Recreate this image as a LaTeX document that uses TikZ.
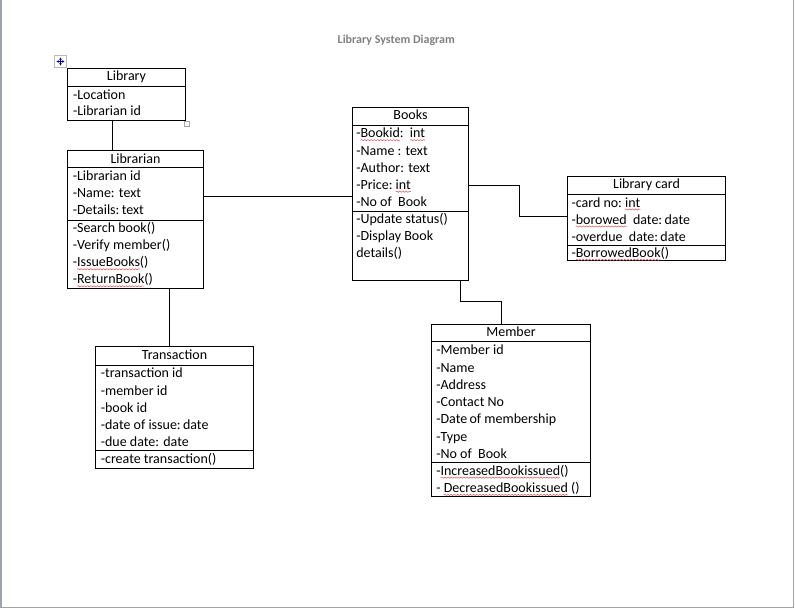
\documentclass[tikz,border=0pt]{standalone}
\usepackage{fontspec}
\setmainfont{Carlito}
\usetikzlibrary{fit,decorations.pathmorphing,arrows.meta}
\definecolor{frame}{HTML}{A0A4A8}
\definecolor{ttlgray}{HTML}{808080}
\definecolor{squigred}{HTML}{E04848}
\tikzset{
  classbox/.style={draw, line width=0.8pt, inner sep=0pt, outer sep=0pt},
  sepline/.style={line width=0.8pt},
  conn/.style={line width=0.8pt},
  txt/.style={anchor=base west, inner sep=0pt, outer sep=0pt, font=\fontsize{10.5}{12}\selectfont},
  ctitle/.style={anchor=base, inner sep=0pt, outer sep=0pt, font=\fontsize{10.5}{12}\selectfont},
  squig/.style={draw=squigred, line width=0.35pt, decorate,
     decoration={snake, amplitude=0.45pt, segment length=2.4pt}},
}
\newcommand\sqw[3]{%
  \node[txt] (#1) at (#2) {#3};
  \draw[squig] ([yshift=-1.7pt]#1.base west) -- ([yshift=-1.7pt]#1.base east);}
\begin{document}
\begin{tikzpicture}[x=0.75pt, y=-0.75pt]
\useasboundingbox (0,0) rectangle (795,609);
% page frame
\draw[frame, line width=1.3pt] (1,0) -- (1,607.5) -- (793.5,607.5) -- (793.5,0);

% title
\node[anchor=base, inner sep=0pt, text=ttlgray, font=\fontsize{9}{11}\selectfont\bfseries] (title) at (396.3,43.3) {Library System Diagram};

% word artefacts
\draw[gray!55, line width=0.7pt] (54.5,55.5) rectangle (66.5,67.5);
\draw[blue!55!black, line width=0.5pt, {Stealth[length=1.7pt,width=1.9pt]}-{Stealth[length=1.7pt,width=1.9pt]}] (56.5,61.5) -- (64.5,61.5);
\draw[blue!55!black, line width=0.5pt, {Stealth[length=1.7pt,width=1.9pt]}-{Stealth[length=1.7pt,width=1.9pt]}] (60.5,57.5) -- (60.5,65.5);
\draw[gray!70, line width=0.7pt] (184.5,121.5) rectangle (189.5,126.5);

% ---------------- Library
\node[classbox, fit={(67.5,68.5) (185.5,120.5)}] (library) {};
\draw[sepline] (67.5,86.5) -- (185.5,86.5);
\node[ctitle] (libT) at (126.5,80.9) {Library};
\node[txt] (lib1) at (73.0,99.3) {-Location};
\node[txt] (lib2) at (73.0,116.0) {-Librarian id};

% ---------------- Librarian
\node[classbox, fit={(67.5,150.5) (203.5,288.5)}] (librarian) {};
\draw[sepline] (67.5,167.5) -- (203.5,167.5);
\draw[sepline] (67.5,220.5) -- (203.5,220.5);
\node[ctitle] (lbnT) at (135.5,163.2) {Librarian};
\node[txt] (lbn1) at (72.8,180.5) {-Librarian id};
\node[txt] (lbn2) at (72.8,197.8) {-Name: text};
\node[txt] (lbn3) at (72.8,215.0) {-Details:\,text};
\node[txt] (lbn4) at (72.8,233.0) {-Search book()};
\node[txt] (lbn5) at (72.8,250.0) {-Verify member()};
\node[txt] (lbn6a) at (72.8,267.0) {-};
\sqw{lbn6b}{lbn6a.base east}{IssueBooks}
\node[txt] (lbn6c) at (lbn6b.base east) {()};
\node[txt] (lbn7a) at (72.8,284.0) {-};
\sqw{lbn7b}{lbn7a.base east}{ReturnBook}
\node[txt] (lbn7c) at (lbn7b.base east) {()};

% ---------------- Books
\node[classbox, fit={(352.5,107.5) (468.5,280.5)}] (books) {};
\draw[sepline] (352.5,125.5) -- (468.5,125.5);
\draw[sepline] (352.5,211.5) -- (468.5,211.5);
\node[ctitle] (bkT) at (410.5,119.9) {Books};
\node[txt] (bk1a) at (356.3,137.9) {-};
\sqw{bk1b}{bk1a.base east}{Bookid}
\node[txt] (bk1c) at (bk1b.base east) {:\ \ \mbox{}};
\sqw{bk1d}{bk1c.base east}{int}
\node[txt] (bk2) at (356.3,155.1) {-Name : text};
\node[txt] (bk3) at (356.3,172.3) {-Author: text};
\node[txt] (bk4a) at (356.3,189.5) {-Price:\ \mbox{}};
\sqw{bk4b}{bk4a.base east}{int}
\node[txt] (bk5) at (356.3,206.7) {-No of\ \ Book};
\node[txt] (bk6) at (356.3,223.3) {-Update status()};
\node[txt] (bk7) at (356.3,240.3) {-Display Book};
\node[txt] (bk8) at (356.3,257.3) {details()};

% ---------------- Library card
\node[classbox, fit={(567.5,176.5) (725.5,260.5)}] (card) {};
\draw[sepline] (567.5,194.5) -- (725.5,194.5);
\draw[sepline] (567.5,245.5) -- (725.5,245.5);
\node[ctitle] (cdT) at (646.5,188.8) {Library card};
\node[txt] (cd1a) at (571.5,207.2) {-card no:\ \mbox{}};
\sqw{cd1b}{cd1a.base east}{int}
\node[txt] (cd2a) at (571.5,224.2) {-};
\sqw{cd2b}{cd2a.base east}{borowed}
\node[txt] (cd2c) at (cd2b.base east) {\ \ date:\,date};
\node[txt] (cd3) at (571.5,241.1) {-overdue\ \ date:\,date};
\node[txt] (cd4a) at (571.5,257.6) {-};
\sqw{cd4b}{cd4a.base east}{BorrowedBook}
\node[txt] (cd4c) at (cd4b.base east) {()};

% ---------------- Transaction
\node[classbox, fit={(95.5,346.5) (253.5,468.5)}] (transaction) {};
\draw[sepline] (95.5,365.5) -- (253.5,365.5);
\draw[sepline] (95.5,450.5) -- (253.5,450.5);
\node[ctitle] (trT) at (174.5,359.8) {Transaction};
\node[txt] (tr1) at (100.8,377.8) {-transaction id};
\node[txt] (tr2) at (100.8,395.0) {-member id};
\node[txt] (tr3) at (100.8,412.2) {-book id};
\node[txt] (tr4) at (100.8,429.3) {-date of issue:\,date};
\node[txt] (tr5) at (100.8,446.4) {-due date: date};
\node[txt] (tr6) at (100.8,463.2) {-create transaction()};

% ---------------- Member
\node[classbox, fit={(431.5,324.5) (590.5,496.5)}] (member) {};
\draw[sepline] (431.5,341.5) -- (590.5,341.5);
\draw[sepline] (431.5,462.5) -- (590.5,462.5);
\node[ctitle] (mbT) at (511,336.6) {Member};
\node[txt] (mb1) at (436.3,354.7) {-Member id};
\node[txt] (mb2) at (436.3,372.0) {-Name};
\node[txt] (mb3) at (436.3,389.2) {-Address};
\node[txt] (mb4) at (436.3,406.5) {-Contact No};
\node[txt] (mb5) at (436.3,423.8) {-Date\,of membership};
\node[txt] (mb6) at (436.3,441.1) {-Type};
\node[txt] (mb7) at (436.3,458.0) {-No of\ \ Book};
\node[txt] (mb8a) at (436.3,475.4) {-};
\sqw{mb8b}{mb8a.base east}{IncreasedBookissued}
\node[txt] (mb8c) at (mb8b.base east) {()};
\node[txt] (mb9a) at (436.3,492.6) {-\ \mbox{}};
\sqw{mb9b}{mb9a.base east}{DecreasedBookissued}
\node[txt] (mb9c) at (mb9b.base east) {\ ()};

% ---------------- connectors
\coordinate (k1) at (112.5,0);
\draw[conn] (library.south -| k1) -- (librarian.north -| k1);

\coordinate (k2) at (0,196.5);
\draw[conn] (librarian.east |- k2) -- (books.west |- k2);

\coordinate (k3) at (519.5,185.5);
\coordinate (k4) at (519.5,216.5);
\draw[conn] (books.east |- k3) -- (k3) -- (k4) -- (card.west |- k4);

\coordinate (k5) at (169.5,0);
\draw[conn] (librarian.south -| k5) -- (transaction.north -| k5);

\coordinate (k6) at (460.5,301.5);
\coordinate (k7) at (501.5,301.5);
\draw[conn] (books.south -| k6) -- (k6) -- (k7) -- (member.north -| k7);
\end{tikzpicture}
\end{document}
